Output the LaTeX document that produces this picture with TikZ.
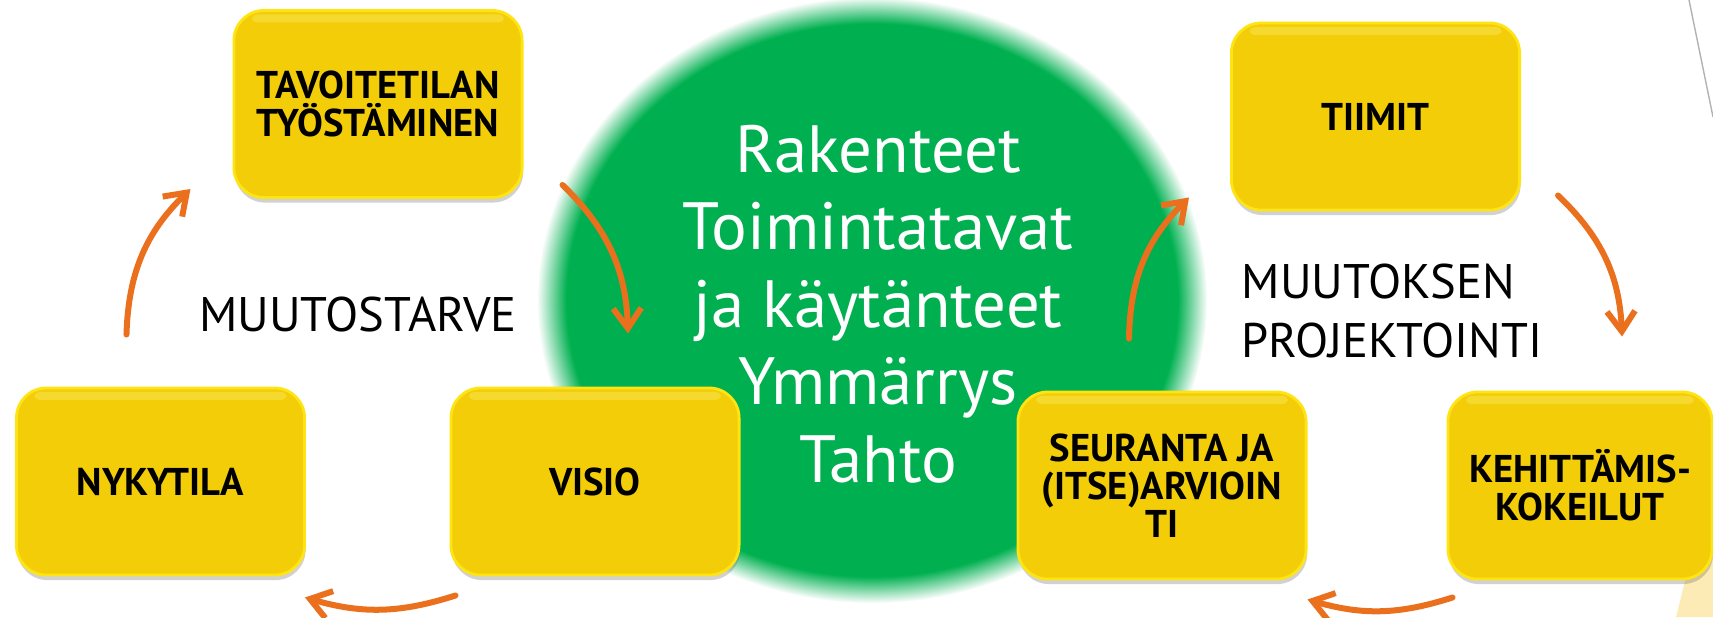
\documentclass[tikz,border=0pt]{standalone}
\usepackage{fontspec}
\setmainfont{PT Sans}
\usetikzlibrary{arrows.meta, shapes.geometric, shadows}

\definecolor{vihrea}{RGB}{0,176,80}
\definecolor{kulta}{RGB}{242,205,8}
\definecolor{kultareuna}{RGB}{255,228,20}
\definecolor{kiilto}{RGB}{255,240,120}
\definecolor{oranssi}{RGB}{234,112,30}
\definecolor{vaaleakelta}{RGB}{253,235,182}

\pgfdeclareradialshading{vihreasumu}{\pgfpoint{0bp}{0bp}}{color(0bp)=(vihrea); color(22.8bp)=(vihrea); color(25bp)=(white); color(50bp)=(white)}

\begin{document}
\begin{tikzpicture}[x=0.01cm, y=-0.01cm,
    laatikko/.style={rectangle, rounded corners=0.3cm, fill=kulta, draw=kultareuna, line width=0.8pt,
      minimum width=2.88cm, minimum height=1.87cm, inner sep=0pt, align=center,
      font=\bfseries\fontsize{11}{10.8}\selectfont,
      drop shadow={shadow xshift=0.01cm, shadow yshift=-0.05cm, opacity=0.3, fill=black!60},
      path picture={\fill[kiilto, opacity=0.35, rounded corners=0.05cm]
        ([xshift=0.18cm, yshift=-0.04cm]path picture bounding box.north west) rectangle
        ([xshift=-0.18cm, yshift=-0.12cm]path picture bounding box.north east);}},
    kierto/.style={draw=oranssi, line width=0.06cm, line cap=round,
      -{Straight Barb[length=0.2cm, width=0.28cm]}}]
    \useasboundingbox (0,0) rectangle (1713,617);
    \clip (0,0) rectangle (1713,617);

    % slide decoration at the right edge
    \draw[black!30, line width=0.4pt] (1689,0) -- (1713,117);
    \fill[vaaleakelta] (1676,617) -- (1705,500) -- (1713,500) -- (1713,617) -- cycle;

    \node[ellipse, shading=vihreasumu, minimum width=6.7cm, minimum height=6.06cm, inner sep=0pt] (ydin) at (872,300) {};
    \node[text=white, align=center, inner sep=0pt, font=\fontsize{19}{22}\selectfont] (ydinteksti) at (878,304)
      {Rakenteet\\Toimintatavat\\ja käytänteet\\Ymmärrys\\Tahto};

    % muutostarve
    \node[laatikko] (tavoite) at (378,104) {TAVOITETILAN\\TYÖSTÄMINEN};
    \node[laatikko] (nyky) at (160.5,481.5) {NYKYTILA};
    \node[laatikko] (visio) at (595,481.5) {VISIO};
    \node[inner sep=0pt, font=\fontsize{13.8}{16.5}\selectfont] (tarve) at (358,314) {MUUTOSTARVE};

    \draw[kierto] ([xshift=-0.34cm, yshift=0.52cm]nyky.north) to[bend left=22] ([xshift=-0.42cm, yshift=0.10cm]tavoite.south west);
    \draw[kierto] ([xshift=0.39cm, yshift=0.14cm]tavoite.south east) to[bend left=22] ([xshift=0.33cm, yshift=0.53cm]visio.north);
    \draw[kierto] ([xshift=0.06cm, yshift=-0.19cm]visio.south west) to[bend left=17] ([xshift=-0.01cm, yshift=-0.21cm]nyky.south east);

    % muutoksen projektointi
    \node[laatikko] (tiimit) at (1375.5,116.5) {TIIMIT};
    \node[laatikko] (seuranta) at (1162,485.5) {SEURANTA JA\\(ITSE)ARVIOIN\\TI};
    \node[laatikko, minimum width=2.64cm] (kokeilut) at (1580,485.5) {KEHITTÄMIS-\\KOKEILUT};
    \node[inner sep=0pt, anchor=west, align=left, font=\fontsize{13.8}{16.5}\selectfont] (projekti) at (1241,311) {MUUTOKSEN\\PROJEKTOINTI};

    \draw[kierto] ([xshift=-0.33cm, yshift=0.52cm]seuranta.north) to[bend left=22] ([xshift=-0.41cm, yshift=0.14cm]tiimit.south west);
    \draw[kierto] ([xshift=0.37cm, yshift=0.16cm]tiimit.south east) to[bend left=22] ([xshift=0.42cm, yshift=0.54cm]kokeilut.north);
    \draw[kierto] ([xshift=0.06cm, yshift=-0.17cm]kokeilut.south west) to[bend left=17] ([xshift=0cm, yshift=-0.19cm]seuranta.south east);
\end{tikzpicture}
\end{document}
